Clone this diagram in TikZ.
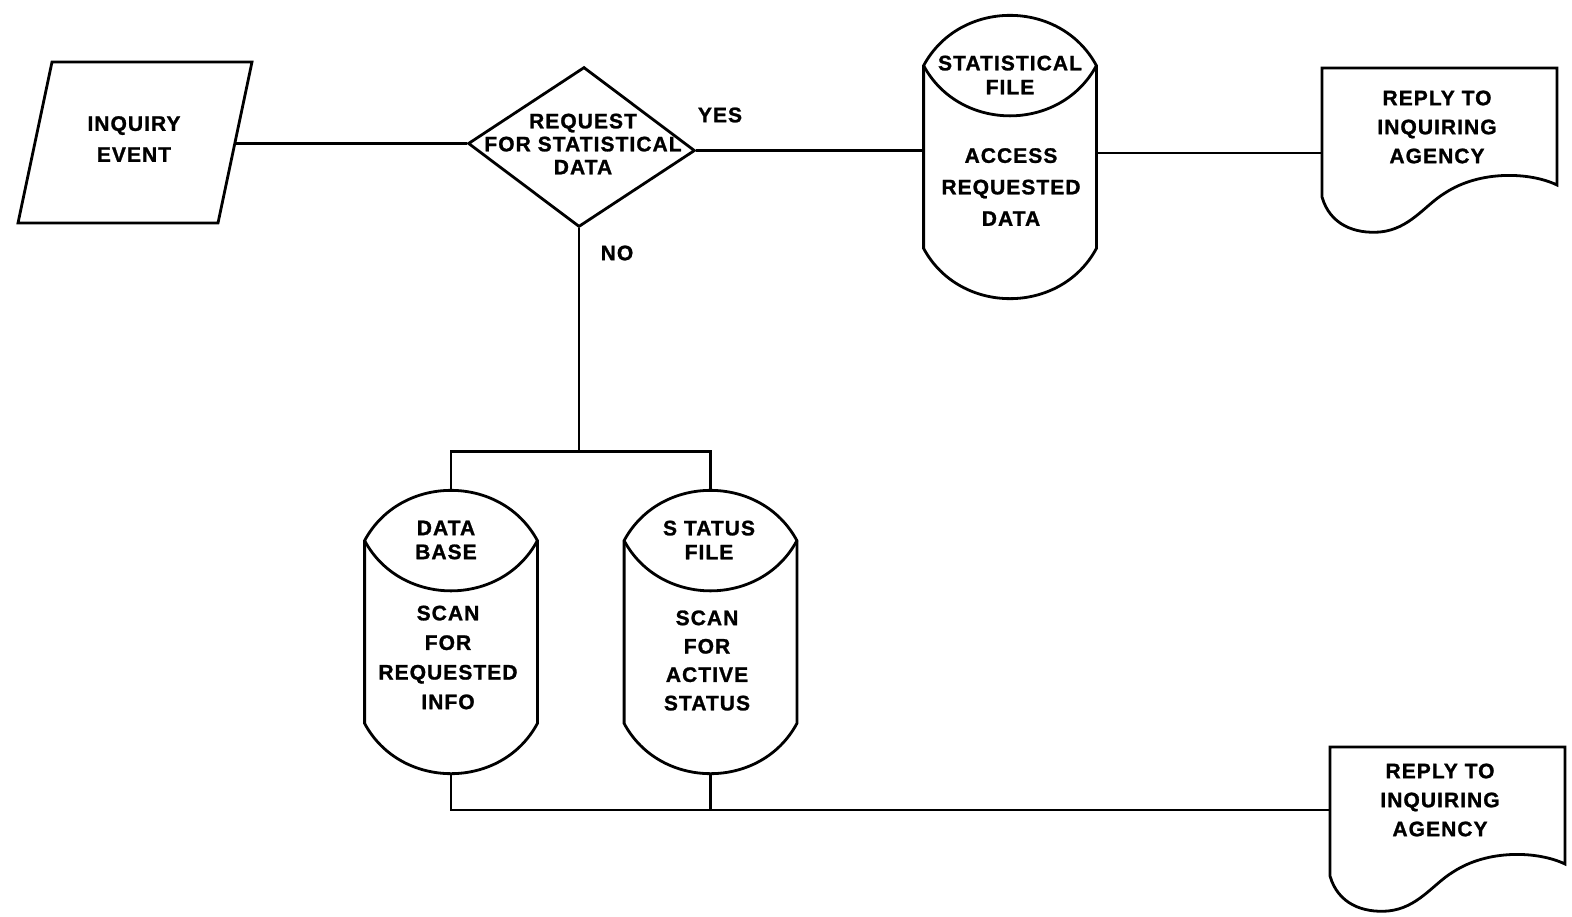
\documentclass[tikz,border=0pt]{standalone}
\usepackage{fontspec}
\newfontfamily\lf{Liberation Sans}[LetterSpace=5, BoldFeatures={FakeBold=1.2}]
\usetikzlibrary{shapes.geometric,calc}
\tikzset{
  txt/.style={font=\lf\bfseries\fontsize{10.5}{#1}\selectfont, align=center, inner sep=0pt},
  txt/.default=15.5pt,
  cylbody/.style={draw=none, minimum width=85pt, minimum height=90pt, inner sep=0pt},
  decbox/.style={draw, diamond, minimum width=113.5pt, minimum height=80pt, inner sep=0pt},
  conn/.style={draw},
}
\newcommand\cylout[1]{%
  \draw (#1.north west) .. controls ($(#1.north west)+(36,-67)$) and ($(#1.north east)+(-36,-67)$) .. (#1.north east)
        -- (#1.south east) .. controls ($(#1.south east)+(-36,67)$) and ($(#1.south west)+(36,67)$) .. (#1.south west) -- cycle;
  \draw (#1.north west) .. controls ($(#1.north west)+(36,67)$) and ($(#1.north east)+(-36,67)$) .. (#1.north east);
  \coordinate (#1-top) at ($(#1.north)+(0,-50)$);
  \coordinate (#1-bot) at ($(#1.south)+(0,50)$);
}
\newcommand\docout[2]{%
  \begin{scope}[shift={#2}]
    \coordinate (#1-tl) at (0,0);
    \draw (0,0) -- (235,0) -- (235,117) .. controls (208,104) and (158,102) .. (123,125)
          .. controls (103,137) and (88,161) .. (58,164) .. controls (33,166) and (8,157) .. (0,129) -- cycle;
  \end{scope}
}
\begin{document}
\begin{tikzpicture}[x=0.5pt, y=-0.5pt, line width=1.4pt, line join=miter]
\useasboundingbox (0,0) rectangle (1572,916);

% inquiry event (parallelogram)
\draw (52,62) -- (252,62) -- (218,223) -- (18,223) -- cycle;
\coordinate (pR) at (235,143);
\node[txt] (inq) at (134,139) {INQUIRY\\EVENT};

% decision
\node[decbox, rotate=-1.8] (dec) at (581.5,147) {};
\node[txt=11.5pt] (dq) at (583,144) {REQUEST\\FOR STATISTICAL\\DATA};
\node[txt] (yes) at (720,115) {YES};
\node[txt] (no) at (617,253) {NO};

% statistical file
\node[cylbody] (stat) at (1010,157) {};
\cylout{stat}
\node[txt=12pt] (statlens) at (1010,75) {STATISTICAL\\FILE};
\node[txt=15.75pt] (stattxt) at (1011,187) {ACCESS\\REQUESTED\\DATA};

% data base
\node[cylbody] (db) at (451,632) {};
\cylout{db}
\node[txt=12pt] (dblens) at (446,540) {DATA\\BASE};
\node[txt=14.8pt] (dbtxt) at (448,657.5) {SCAN\\FOR\\REQUESTED\\INFO};

% status file
\node[cylbody] (st) at (710.5,632) {};
\cylout{st}
\node[txt=12pt] (stlens) at (709,540) {S TATUS\\FILE};
\node[txt=14.2pt] (sttxt) at (707,660.5) {SCAN\\FOR\\ACTIVE\\STATUS};

% documents
\docout{doc1}{(1322,68)}
\node[txt=14.5pt] (doc1txt) at (1437,127) {REPLY TO\\INQUIRING\\AGENCY};
\docout{doc2}{(1330,747)}
\node[txt=14.5pt] (doc2txt) at (1440,800) {REPLY TO\\INQUIRING\\AGENCY};
\coordinate (doc2-in) at (1330,810);

% connectors
\draw[conn] (dec.west -| pR) -- (dec.west);
\draw[conn] (dec.east) -- (dec.east -| stat.west);
\draw[conn] ([yshift=2pt]stat.east) -- ([yshift=2pt]stat.east -| doc1-tl);
\coordinate (split) at ($(dec.south)+(0,223)$);
\draw[conn] (dec.south) -- (split);
\draw[conn] (db-top) |- (split) -| (st-top);
\draw[conn] (db-bot) |- (doc2-in);
\draw[conn] (st-bot) -- (st-bot |- doc2-in);
\end{tikzpicture}
\end{document}
